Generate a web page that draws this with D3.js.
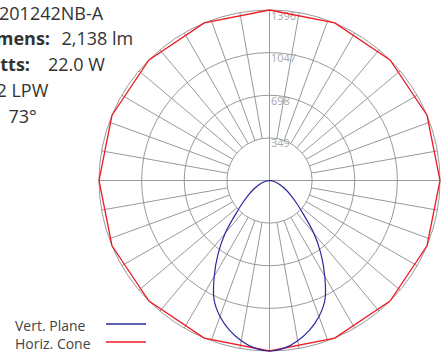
<!DOCTYPE html>
<html>
<head>
<meta charset="utf-8">
<script src="https://cdn.jsdelivr.net/npm/d3@7"></script>
<style>
  html, body { margin: 0; padding: 0; background: #fff; }
  svg { display: block; }
</style>
</head>
<body>
<svg id="chart" width="444" height="354"></svg>
<script>
// Ring values (candela) labelled along the top of the polar grid
const ringTicks = [349, 698, 1047, 1396];
const maxCd = 1396;

// Vertical plane: angle from nadir (deg) and intensity (cd), symmetric about nadir
const vertAngles = [0, 5, 10, 15, 20, 25, 30, 35, 40, 45, 50, 55, 60, 65, 70, 75, 80, 85, 90];
const vertValues = [1396, 1378, 1332, 1268, 1185, 1075, 905, 735, 565, 395, 290, 215, 160, 115, 78, 48, 26, 10, 0];

// Horizontal cone: azimuth (deg) and intensity (cd)
const coneAngles = [0, 22.5, 45, 67.5, 90, 112.5, 135, 157.5, 180, 202.5, 225, 247.5, 270, 292.5, 315, 337.5];
const coneValues = [1396, 1396, 1396, 1396, 1396, 1396, 1396, 1396, 1396, 1396, 1396, 1396, 1396, 1396, 1396, 1396];

// Photometric summary lines
const infoLabels = ["", "Lumens:", "Watts:", "", ""];
const infoValues = ["201242NB-A", "2,138 lm", "22.0 W", "97.2 LPW", "73°"];

const legendItems = ["Vert. Plane", "Horiz. Cone"];
const legendColors = ["#28289c", "#ec1c24"];

const svg = d3.select("#chart");
const cx = 269.5, cy = 180.5, R = 170.5;
const r = d3.scaleLinear().domain([0, maxCd]).range([0, R]);
const toRad = d => d * Math.PI / 180;

const g = svg.append("g").attr("transform", `translate(${cx},${cy})`);
const gridColor = "#999";

// Spokes every 10 degrees, from the first ring outward; main axes pass through the centre
d3.range(0, 360, 10).forEach(a => {
  const main = a % 90 === 0;
  const r0 = main ? 0 : r(ringTicks[0]);
  const t = toRad(a);
  g.append("line")
    .attr("x1", r0 * Math.sin(t)).attr("y1", -r0 * Math.cos(t))
    .attr("x2", R * Math.sin(t)).attr("y2", -R * Math.cos(t))
    .attr("stroke", gridColor).attr("stroke-width", 1);
});

// Rings
g.selectAll("circle.ring").data(ringTicks).join("circle")
  .attr("class", "ring")
  .attr("r", d => r(d))
  .attr("fill", "none").attr("stroke", gridColor).attr("stroke-width", 1);

// Ring labels
g.selectAll("text.rl").data(ringTicks).join("text")
  .attr("class", "rl")
  .attr("x", 1.5)
  .attr("y", d => -r(d) + 9.5)
  .attr("font-family", "'Open Sans', sans-serif")
  .attr("font-size", 11)
  .attr("fill", "#a8a8a8")
  .text(d => d);

// Horizontal cone polygon
const conePts = coneAngles.map((a, i) => [toRad(a), r(coneValues[i])]);
g.append("path")
  .attr("d", d3.lineRadial().curve(d3.curveLinearClosed)(conePts))
  .attr("fill", "none").attr("stroke", legendColors[1]).attr("stroke-width", 1.3);

// Vertical plane curve, right half then mirrored left half (nadir points down)
const right = vertAngles.map((a, i) => [Math.PI - toRad(a), r(vertValues[i])]);
const left = vertAngles.slice(1).map((a, i) => [Math.PI + toRad(a), r(vertValues[i + 1])]);
const vertPts = right.slice().reverse().concat(left);
g.append("path")
  .attr("d", d3.lineRadial().curve(d3.curveCatmullRom)(vertPts))
  .attr("fill", "none").attr("stroke", legendColors[0]).attr("stroke-width", 1.2);

// Summary text block
const font = "'Open Sans', sans-serif";
const baseY = 19.5, step = 25.8;
const labelEnd = [0, 50, 30, 0, 0];
const valueX = [-1, 61.5, 48, null, null];
const valueEnd = [null, null, null, 48.3, 36.7];
infoValues.forEach((v, i) => {
  const y = baseY + i * step;
  if (infoLabels[i]) {
    svg.append("text").attr("x", labelEnd[i]).attr("y", y)
      .attr("text-anchor", "end")
      .attr("font-family", font).attr("font-size", 18).attr("font-weight", 700)
      .attr("fill", "#333").text(infoLabels[i]);
  }
  const t = svg.append("text").attr("y", y)
    .attr("font-family", font).attr("font-size", 18)
    .attr("fill", "#333").text(v);
  if (valueX[i] !== null) t.attr("x", valueX[i]);
  else t.attr("x", valueEnd[i]).attr("text-anchor", "end");
});

// Legend
legendItems.forEach((name, i) => {
  const y = 330.5 + i * 18;
  svg.append("text").attr("x", 15).attr("y", y)
    .attr("font-family", font).attr("font-size", 14)
    .attr("fill", "#444").text(name);
  svg.append("line")
    .attr("x1", 106).attr("x2", 146)
    .attr("y1", y - 6.5).attr("y2", y - 6.5)
    .attr("stroke", legendColors[i]).attr("stroke-width", 1.5);
});
</script>
</body>
</html>
